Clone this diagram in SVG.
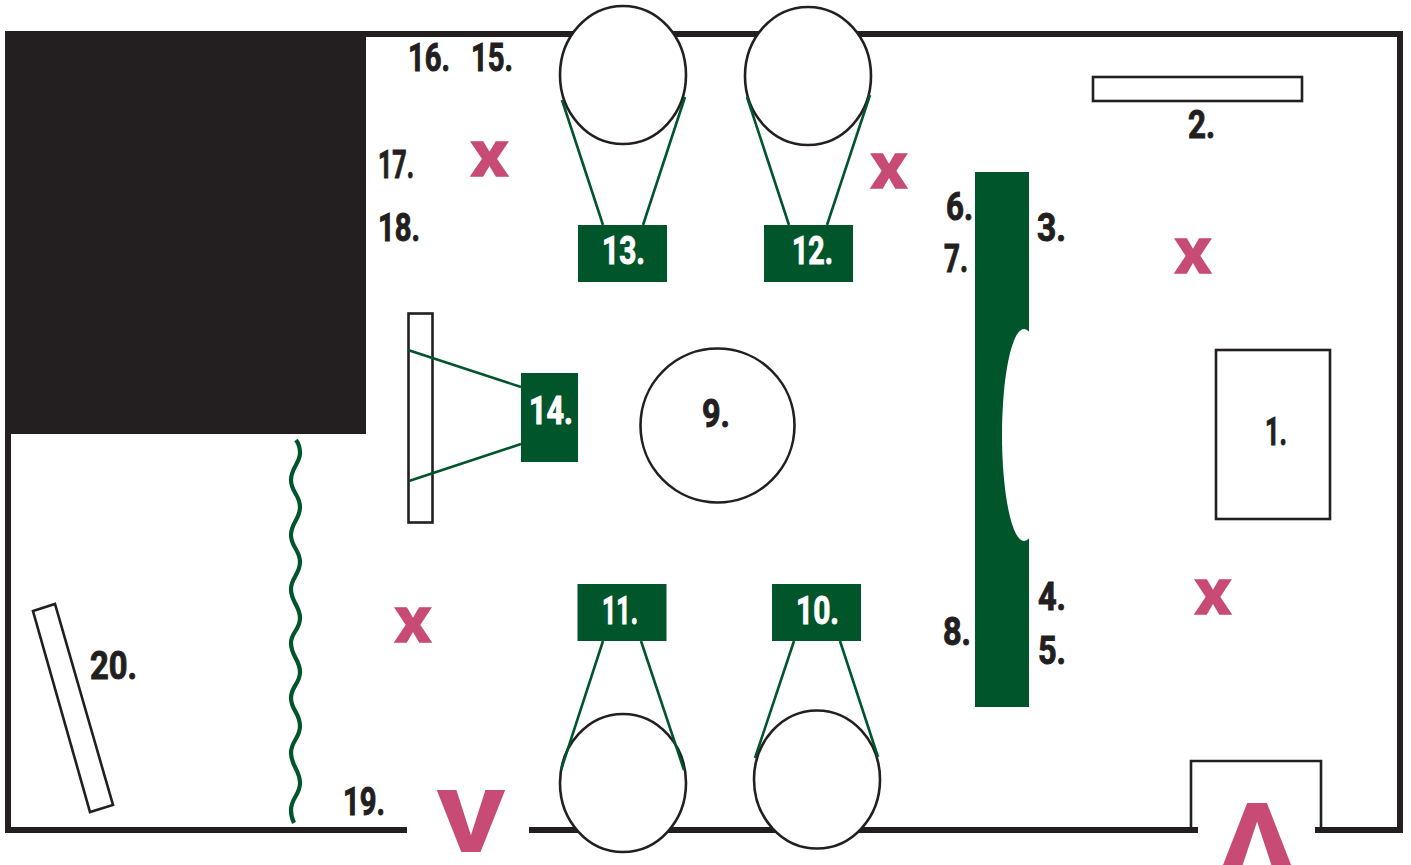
<svg xmlns="http://www.w3.org/2000/svg" width="1411" height="865" viewBox="0 0 1411 865">
<style>
.wall{fill:none;stroke:#231f20;stroke-width:6;stroke-linejoin:miter}
.thin{fill:#fff;stroke:#231f20;stroke-width:2.6}
.g{fill:#00552b}
.ln{fill:none;stroke:#00552b;stroke-width:2.6}
text{font-family:Roboto,"Liberation Sans",sans-serif;font-weight:700}
.l{font-size:38px;fill:#231f20;stroke:#231f20;stroke-width:1}
.w{font-size:38px;fill:#fff;stroke:#fff;stroke-width:1}
.x{font-size:49px;fill:#c84b75;stroke:#c84b75;stroke-width:1.4;font-weight:900}
.big{font-size:87px;fill:#c84b75;font-weight:900}
</style>
<rect width="1411" height="865" fill="#fff"/>
<g id="room">
<rect class="wall" x="8" y="34" width="1392" height="796"/>
<rect x="8" y="34" width="358" height="400" fill="#231f20"/>
<rect x="407" y="824" width="122" height="12" fill="#fff"/>
<rect x="1198" y="824" width="117" height="12" fill="#fff"/>
</g>
<g id="door"><path d="M1191 827V761H1321V827" fill="none" stroke="#231f20" stroke-width="2.6"/></g>
<g id="n1"><rect class="thin" x="1216" y="350" width="114" height="169"/><text class="l" x="1265" y="445" textLength="22" lengthAdjust="spacingAndGlyphs">1.</text></g>
<g id="n2"><rect class="thin" x="1093" y="77" width="209" height="24"/><text class="l" x="1188" y="138" textLength="27" lengthAdjust="spacingAndGlyphs">2.</text></g>
<g id="counter">
<rect class="g" x="975" y="172" width="54" height="535"/>
<ellipse cx="1024" cy="435" rx="22" ry="106" fill="#fff"/>
<text class="l" x="1037" y="241" textLength="29" lengthAdjust="spacingAndGlyphs">3.</text>
<text class="l" x="1038" y="610" textLength="28" lengthAdjust="spacingAndGlyphs">4.</text>
<text class="l" x="1038" y="664" textLength="28" lengthAdjust="spacingAndGlyphs">5.</text>
<text class="l" x="946" y="220" textLength="27" lengthAdjust="spacingAndGlyphs">6.</text>
<text class="l" x="944" y="272" textLength="24" lengthAdjust="spacingAndGlyphs">7.</text>
<text class="l" x="943" y="645" textLength="28" lengthAdjust="spacingAndGlyphs">8.</text>
</g>
<g id="n9"><circle class="thin" cx="717.5" cy="425.5" r="77"/><text class="l" x="702" y="427" textLength="28" lengthAdjust="spacingAndGlyphs">9.</text></g>
<g id="board"><rect class="thin" x="408.5" y="313.5" width="24" height="209"/></g>
<g id="seat13"><ellipse class="thin" cx="623" cy="75" rx="63" ry="69"/></g>
<g id="seat12"><ellipse class="thin" cx="808" cy="76" rx="63" ry="69"/></g>
<g id="seat11"><ellipse class="thin" cx="623" cy="783" rx="63" ry="69"/></g>
<g id="seat10"><ellipse class="thin" cx="817" cy="779.5" rx="63" ry="69"/></g>
<g id="connectors">
<path class="ln" d="M562 100L603 225M685 97L643 225"/>
<path class="ln" d="M747 97L789 225M870 95L827 225"/>
<path class="ln" d="M603 641L561 770M641 641L684 770"/>
<path class="ln" d="M794 641L755 758M840 641L878 757"/>
<path class="ln" d="M408 350L521 387M409 481L521 444"/>
<path d="M296 440C299 444 300 448 300 453C300 463 291 468 291 480C291 492 300 495 300 507C300 519 291 523 291 535C291 547 300 550 300 562C300 574 291 578 291 589C291 602 300 606 300 618C300 630 291 632 291 643C291 656 300 660 300 672C300 684 291 686 291 698C291 710 300 713 300 726C300 738 291 741 291 753C291 766 300 770 300 783C300 795 291 798 291 810C291 815 292 819 294 823" fill="none" stroke="#00552b" stroke-width="4.2"/>
</g>
<g id="n13"><rect class="g" x="578" y="225" width="89" height="57"/><text class="w" x="602" y="264" textLength="43" lengthAdjust="spacingAndGlyphs">13.</text></g>
<g id="n12"><rect class="g" x="764" y="225" width="89" height="57"/><text class="w" x="792" y="264" textLength="41" lengthAdjust="spacingAndGlyphs">12.</text></g>
<g id="n11"><rect class="g" x="577.5" y="584" width="89" height="57"/><text class="w" x="602" y="624" textLength="36" lengthAdjust="spacingAndGlyphs">11.</text></g>
<g id="n10"><rect class="g" x="772" y="584" width="89" height="57"/><text class="w" x="796" y="624" textLength="43" lengthAdjust="spacingAndGlyphs">10.</text></g>
<g id="n14"><rect class="g" x="521" y="373" width="57" height="89"/><text class="w" x="529" y="424" textLength="44" lengthAdjust="spacingAndGlyphs">14.</text></g>
<g id="n20"><polygon class="thin" points="33,611 55,604 113,805 90,812"/><text class="l" x="90" y="679" textLength="47" lengthAdjust="spacingAndGlyphs">20.</text></g>
<g id="labels">
<text class="l" x="408" y="71" textLength="42" lengthAdjust="spacingAndGlyphs">16.</text>
<text class="l" x="471" y="71" textLength="42" lengthAdjust="spacingAndGlyphs">15.</text>
<text class="l" x="378" y="178" textLength="36" lengthAdjust="spacingAndGlyphs">17.</text>
<text class="l" x="378" y="241" textLength="42" lengthAdjust="spacingAndGlyphs">18.</text>
<text class="l" x="343" y="815" textLength="42" lengthAdjust="spacingAndGlyphs">19.</text>
</g>
<g id="marks">
<text class="x" x="471" y="176" textLength="37" lengthAdjust="spacingAndGlyphs">X</text>
<text class="x" x="871" y="188" textLength="36" lengthAdjust="spacingAndGlyphs">X</text>
<text class="x" x="1175" y="273" textLength="36" lengthAdjust="spacingAndGlyphs">X</text>
<text class="x" x="1195" y="614" textLength="36" lengthAdjust="spacingAndGlyphs">X</text>
<text class="x" x="395" y="642" textLength="36" lengthAdjust="spacingAndGlyphs">X</text>
<text class="big" x="437" y="852" textLength="68" lengthAdjust="spacingAndGlyphs">V</text>
<text class="big" x="1223" y="865" textLength="68" lengthAdjust="spacingAndGlyphs">Λ</text>
</g>
</svg>
